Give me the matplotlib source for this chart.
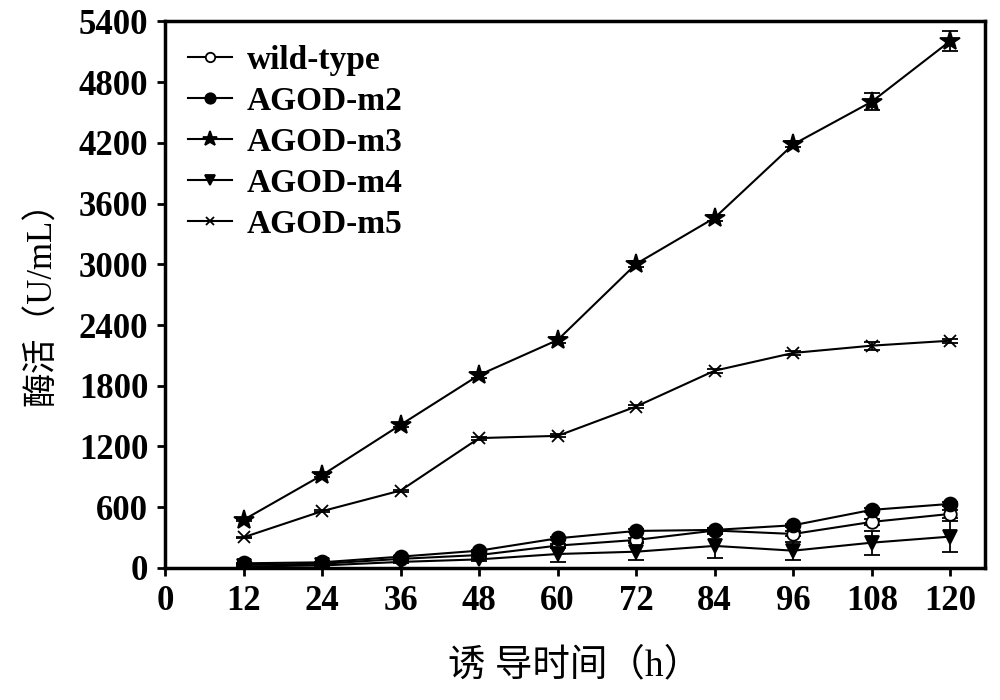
import matplotlib.pyplot as plt
import numpy as np

# induction time (h)
hours = np.array([12, 24, 36, 48, 60, 72, 84, 96, 108, 120])

# enzyme activity (U/mL)
wild_type = [30, 42, 90, 128, 221, 277, 370, 336, 455, 534]
agod_m2 = [46, 56, 112, 171, 293, 366, 376, 422, 574, 633]
agod_m3 = [475, 917, 1414, 1906, 2252, 3004, 3459, 4184, 4606, 5206]
agod_m4 = [15, 25, 60, 85, 138, 161, 218, 171, 250, 310]
agod_m5 = [303, 561, 765, 1283, 1305, 1595, 1949, 2124, 2196, 2245]

# standard deviations
wild_type_err = [5, 5, 8, 10, 20, 20, 25, 25, 30, 40]
agod_m2_err = [5, 5, 8, 10, 15, 15, 15, 15, 20, 20]
agod_m3_err = [10, 15, 20, 25, 30, 30, 30, 30, 82, 95]
agod_m4_err = [5, 5, 10, 15, 76, 82, 116, 90, 120, 153]
agod_m5_err = [5, 10, 10, 15, 15, 15, 20, 20, 40, 20]

series = [
    ("wild-type", wild_type, wild_type_err, "o", "white", 9),
    ("AGOD-m2", agod_m2, agod_m2_err, "o", "black", 10),
    ("AGOD-m3", agod_m3, agod_m3_err, "*", "black", 15),
    ("AGOD-m4", agod_m4, agod_m4_err, "v", "black", 10),
    ("AGOD-m5", agod_m5, agod_m5_err, "x", "black", 8),
]

serif = "Liberation Serif"
fig = plt.figure(figsize=(10, 7), dpi=100)
ax = fig.add_axes([0.165, 0.1886, 0.82, 0.781])

for name, vals, err, mk, face, ms in series:
    ax.errorbar(hours, vals, yerr=err, marker=mk, color="black",
                markerfacecolor=face, markeredgecolor="black", markersize=ms,
                markeredgewidth=1.3, linewidth=1.5, capsize=6, elinewidth=1.3,
                capthick=1.3, label=name)

ax.set_xlim(0, 125.3)
ax.set_ylim(0, 5400)
ax.set_xticks(np.arange(0, 121, 12))
ax.set_yticks(np.arange(0, 5401, 600))

for sp in ax.spines.values():
    sp.set_linewidth(2.5)
ax.tick_params(direction="out", length=6, width=2, pad=6)
for lbl in ax.get_xticklabels() + ax.get_yticklabels():
    lbl.set_fontfamily(serif)
    lbl.set_fontweight("bold")
    lbl.set_fontsize(25)

ax.set_xlabel("诱 导时间（h）", family=[serif, "Noto Sans CJK SC"],
              fontsize=27, labelpad=22)
ax.set_ylabel("酶活（U/mL）", family=[serif, "Noto Sans CJK SC"],
              fontsize=25, labelpad=14)

handles, labels = ax.get_legend_handles_labels()
handles = [h[0] for h in handles]
ax.legend(handles, labels, loc="upper left", frameon=False,
          prop={"family": serif, "weight": "bold", "size": 24},
          handlelength=1.3, handletextpad=0.45, labelspacing=0.3,
          borderaxespad=0.3, markerscale=0.75)

fig.savefig("out.png", dpi=100)
